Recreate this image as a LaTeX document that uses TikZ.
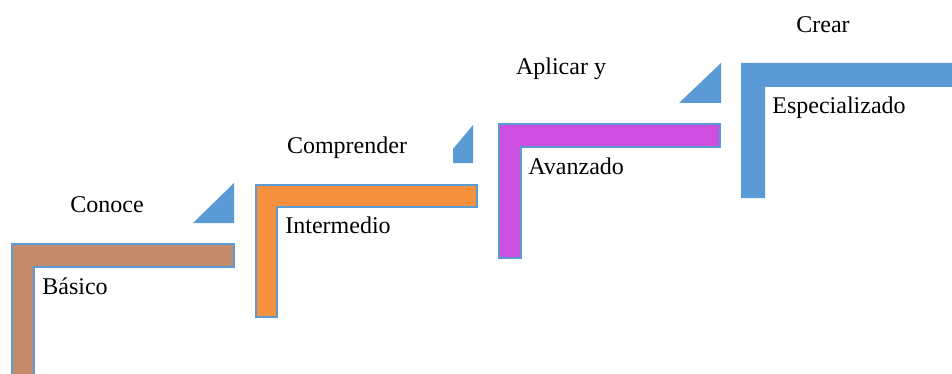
\documentclass[tikz,border=0pt]{standalone}
\usepackage{fontspec}
\setmainfont{Liberation Serif}
\definecolor{brownfill}{RGB}{196,139,108}
\definecolor{orangefill}{RGB}{246,145,62}
\definecolor{magfill}{RGB}{205,79,224}
\definecolor{bluefill}{RGB}{91,155,213}
\tikzset{
  stairL/.style={draw=bluefill, line width=0.8pt},
  tri/.style={fill=bluefill},
  lbl/.style={anchor=base, font=\fontsize{12}{14}\selectfont, inner sep=0pt},
  lvl/.style={anchor=base west, font=\fontsize{12}{14}\selectfont, inner sep=0pt}
}
\begin{document}
\begin{tikzpicture}[x=0.5pt,y=-0.5pt]
\useasboundingbox (0,0) rectangle (952,374);
% step 1
\path[stairL, fill=brownfill] (12,374) -- (12,244) -- (234,244) -- (234,267) -- (34,267) -- (34,374);
\path[tri] (193,223) -- (234,183) -- (234,223) -- cycle;
\node[lbl] (conoce) at (107,212) {Conoce};
\node[lvl] (basico) at (42,294) {Básico};
% step 2
\path[stairL, fill=orangefill] (256,317) -- (256,185) -- (477,185) -- (477,207) -- (277,207) -- (277,317) -- cycle;
\path[tri] (453,163) -- (453,149) -- (473,125) -- (473,163) -- cycle;
\node[lbl] (comprender) at (347,153) {Comprender};
\node[lvl] (intermedio) at (285,233) {Intermedio};
% step 3
\path[stairL, fill=magfill] (499,258) -- (499,124) -- (720,124) -- (720,147) -- (521,147) -- (521,258) -- cycle;
\path[tri] (679,103) -- (721,63) -- (721,103) -- cycle;
\node[lbl] (aplicar) at (561,75) {Aplicar y};
\node[lvl] (avanzado) at (528,174) {Avanzado};
% step 4
\path[fill=bluefill] (741,198) -- (741,63) -- (952,63) -- (952,87) -- (765,87) -- (765,198) -- cycle;
\node[lbl] (crear) at (823,33) {Crear};
\node[lvl] (especializado) at (772,113) {Especializado};
\end{tikzpicture}
\end{document}
